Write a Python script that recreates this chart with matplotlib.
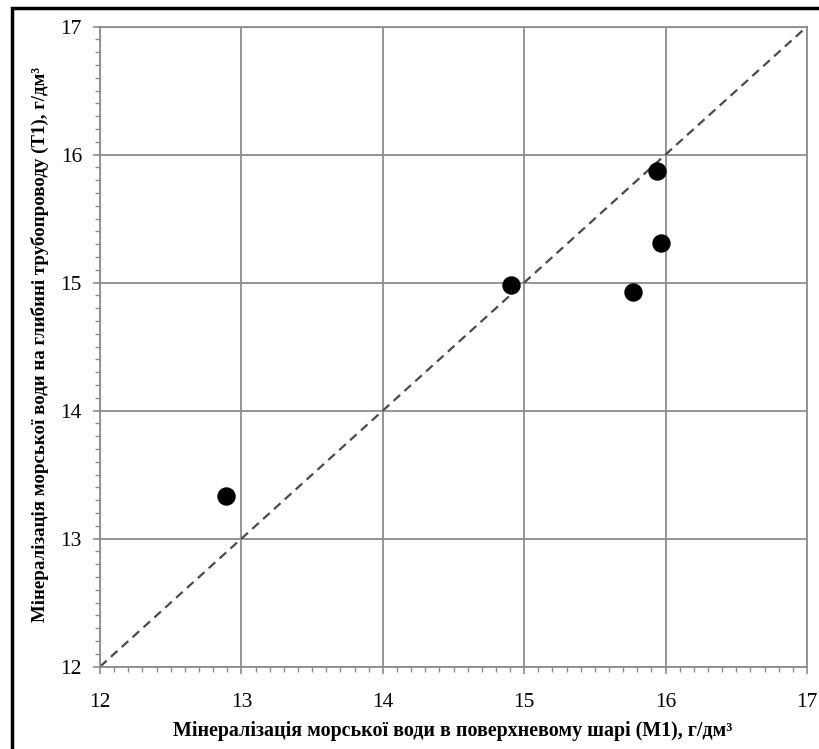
import matplotlib
matplotlib.use("Agg")
import matplotlib.pyplot as plt
from matplotlib.patches import Rectangle
from matplotlib.ticker import MultipleLocator

# surface-layer vs pipeline-depth mineralisation, g/dm3
m1_surface = [12.89, 14.91, 15.77, 15.94, 15.97]
t1_depth = [13.33, 14.98, 14.93, 15.87, 15.31]

ax_min, ax_max = 12, 17
ticks = [12, 13, 14, 15, 16, 17]

xlabel = "Мінералізація морської води в поверхневому шарі (М1), г/дм³"
ylabel = "Мінералізація морської води на глибині трубопроводу (Т1), г/дм³"

plt.rcParams['font.family'] = ['Liberation Serif', 'DejaVu Serif']

W, H = 819, 749
fig = plt.figure(figsize=(W / 100, H / 100), dpi=100)
ax = fig.add_axes([100 / W, 1 - 666.7 / H, 707 / W, 640.2 / H])

grey = '#8c8c8c'
ax.grid(True, color=grey, linewidth=1.3)
ax.set_axisbelow(True)

# 1:1 reference line
ax.plot([ax_min, ax_max], [ax_min, ax_max], linestyle=(0, (4, 2.6)),
        color='#4a4a4a', linewidth=1.6, zorder=2)
ax.scatter(m1_surface, t1_depth, s=150, color='black', zorder=3)

ax.set_xlim(ax_min, ax_max)
ax.set_ylim(ax_min, ax_max)
ax.set_xticks(ticks)
ax.set_yticks(ticks)
ax.xaxis.set_minor_locator(MultipleLocator(0.1))
ax.yaxis.set_minor_locator(MultipleLocator(0.1))
ax.tick_params(which='major', length=5, width=1.2, color=grey,
               labelsize=15.5)
ax.tick_params(which='minor', length=3.6, width=1.0, color=grey)
ax.tick_params(axis='x', pad=14)
ax.tick_params(axis='y', pad=8)
for s in ax.spines.values():
    s.set_color(grey)
    s.set_linewidth(1.3)

fig.text(453 / W, 1 - 736 / H, xlabel, fontsize=14.4, fontweight='bold',
         ha='center', va='baseline')
fig.text(40 / W, 1 - 344 / H, ylabel, fontsize=13.6, fontweight='bold',
         rotation=90, ha='center', va='center')

# outer frame
fig.patches.append(Rectangle((12 / W, -0.02), 1.1, 1 - 8 / H + 0.02,
                             transform=fig.transFigure, fill=False,
                             edgecolor='black', linewidth=2.5))

fig.savefig('out.png', dpi=100)
